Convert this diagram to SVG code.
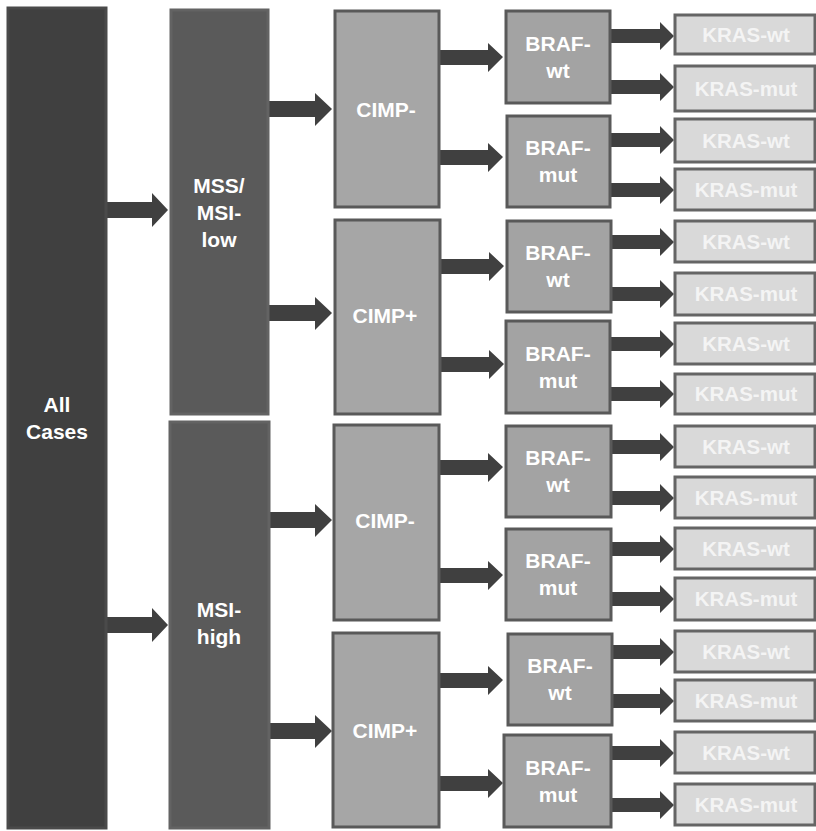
<svg xmlns="http://www.w3.org/2000/svg" width="816" height="831" viewBox="0 0 816 831">
<defs>
<style>
text{font-family:"Liberation Sans",Arial,sans-serif;font-weight:bold;fill:#ffffff;text-anchor:middle}
.l0{fill:#404040;stroke:#4a4a4a;stroke-width:3}
.l1{fill:#5a5a5a;stroke:#636363;stroke-width:3}
.l2{fill:#a6a6a6;stroke:#595959;stroke-width:3}
.l3{fill:#a3a3a3;stroke:#595959;stroke-width:3}
.l4{fill:#d9d9d9;stroke:#656565;stroke-width:3}
.t{font-size:21px}
.tk{font-size:20.5px;fill:#f4f4f4}
.a{fill:#404040}
</style>
</defs>
<rect width="816" height="831" fill="#ffffff"/>
<g id="connectors">
<polygon class="a" points="106,202 152,202 152,193 168,210 152,227 152,218 106,218"/>
<polygon class="a" points="106,617 152,617 152,608 168,625 152,642 152,633 106,633"/>
<polygon class="a" points="269,101 315,101 315,93 332,109 315,126 315,117 269,117"/>
<polygon class="a" points="269,305 315,305 315,297 332,313 315,330 315,321 269,321"/>
<polygon class="a" points="270,512 315,512 315,504 332,520 315,537 315,528 270,528"/>
<polygon class="a" points="270,723 315,723 315,715 332,731 315,748 315,739 270,739"/>
<polygon class="a" points="440,50 488,50 488,43 503,57 488,72 488,65 440,65"/>
<polygon class="a" points="440,150 488,150 488,143 503,157 488,172 488,165 440,165"/>
<polygon class="a" points="441,259 489,259 489,252 504,266 489,281 489,274 441,274"/>
<polygon class="a" points="441,357 489,357 489,350 504,364 489,379 489,372 441,372"/>
<polygon class="a" points="440,460 488,460 488,453 503,467 488,482 488,475 440,475"/>
<polygon class="a" points="440,568 488,568 488,561 503,575 488,590 488,583 440,583"/>
<polygon class="a" points="440,673 488,673 488,666 503,680 488,695 488,688 440,688"/>
<polygon class="a" points="440,776 488,776 488,769 503,783 488,798 488,791 440,791"/>
<polygon class="a" points="611,29 660,29 660,22 674,36 660,50 660,43 611,43"/>
<polygon class="a" points="611,80 660,80 660,73 674,87 660,101 660,94 611,94"/>
<polygon class="a" points="611,133 660,133 660,126 674,140 660,154 660,147 611,147"/>
<polygon class="a" points="611,183 660,183 660,176 674,190 660,204 660,197 611,197"/>
<polygon class="a" points="611,235 660,235 660,228 674,242 660,256 660,249 611,249"/>
<polygon class="a" points="611,287 660,287 660,280 674,294 660,308 660,301 611,301"/>
<polygon class="a" points="611,337 660,337 660,330 674,344 660,358 660,351 611,351"/>
<polygon class="a" points="611,387 660,387 660,380 674,394 660,408 660,401 611,401"/>
<polygon class="a" points="612,440 660,440 660,433 674,447 660,461 660,454 612,454"/>
<polygon class="a" points="612,491 660,491 660,484 674,498 660,512 660,505 612,505"/>
<polygon class="a" points="612,542 660,542 660,535 674,549 660,563 660,556 612,556"/>
<polygon class="a" points="612,592 660,592 660,585 674,599 660,613 660,606 612,606"/>
<polygon class="a" points="613,645 660,645 660,638 674,652 660,666 660,659 613,659"/>
<polygon class="a" points="613,694 660,694 660,687 674,701 660,715 660,708 613,708"/>
<polygon class="a" points="612,746 660,746 660,739 674,753 660,767 660,760 612,760"/>
<polygon class="a" points="612,798 660,798 660,791 674,805 660,819 660,812 612,812"/>
</g>
<g id="all-cases"><rect class="l0" x="8" y="8" width="98" height="820"/><text class="t" x="57" y="412">All</text><text class="t" x="57" y="439">Cases</text></g>
<g id="mss"><rect class="l1" x="171" y="10" width="97" height="404"/><text class="t" x="219" y="193">MSS/</text><text class="t" x="219" y="220">MSI-</text><text class="t" x="219" y="247">low</text></g>
<g id="msi-high"><rect class="l1" x="170" y="422" width="99" height="406"/><text class="t" x="219" y="617">MSI-</text><text class="t" x="219" y="644">high</text></g>
<g id="cimp1"><rect class="l2" x="335" y="11" width="104" height="196"/><text class="t" x="386" y="117">CIMP-</text></g>
<g id="cimp2"><rect class="l2" x="335" y="220" width="105" height="194"/><text class="t" x="385" y="323">CIMP+</text></g>
<g id="cimp3"><rect class="l2" x="334" y="425" width="105" height="195"/><text class="t" x="385" y="528">CIMP-</text></g>
<g id="cimp4"><rect class="l2" x="333" y="633" width="106" height="194"/><text class="t" x="385" y="738">CIMP+</text></g>
<g id="braf1"><rect class="l3" x="506" y="11" width="104" height="92"/><text class="t" x="558" y="51">BRAF-</text><text class="t" x="558" y="78">wt</text></g>
<g id="braf2"><rect class="l3" x="507" y="116" width="103" height="91"/><text class="t" x="558" y="155">BRAF-</text><text class="t" x="558" y="182">mut</text></g>
<g id="braf3"><rect class="l3" x="507" y="221" width="104" height="91"/><text class="t" x="558" y="260">BRAF-</text><text class="t" x="558" y="287">wt</text></g>
<g id="braf4"><rect class="l3" x="506" y="321" width="104" height="92"/><text class="t" x="558" y="361">BRAF-</text><text class="t" x="558" y="388">mut</text></g>
<g id="braf5"><rect class="l3" x="506" y="426" width="105" height="91"/><text class="t" x="558" y="465">BRAF-</text><text class="t" x="558" y="492">wt</text></g>
<g id="braf6"><rect class="l3" x="506" y="529" width="105" height="91"/><text class="t" x="558" y="568">BRAF-</text><text class="t" x="558" y="595">mut</text></g>
<g id="braf7"><rect class="l3" x="508" y="634" width="104" height="91"/><text class="t" x="560" y="673">BRAF-</text><text class="t" x="560" y="700">wt</text></g>
<g id="braf8"><rect class="l3" x="504" y="735" width="107" height="92"/><text class="t" x="558" y="775">BRAF-</text><text class="t" x="558" y="802">mut</text></g>
<g id="kras1"><rect class="l4" x="675" y="15" width="140" height="39"/><text class="tk" x="746" y="42">KRAS-wt</text></g>
<g id="kras2"><rect class="l4" x="675" y="66" width="140" height="45"/><text class="tk" x="746" y="96">KRAS-mut</text></g>
<g id="kras3"><rect class="l4" x="675" y="119" width="140" height="43"/><text class="tk" x="746" y="148">KRAS-wt</text></g>
<g id="kras4"><rect class="l4" x="675" y="169" width="140" height="41"/><text class="tk" x="746" y="197">KRAS-mut</text></g>
<g id="kras5"><rect class="l4" x="675" y="221" width="140" height="41"/><text class="tk" x="746" y="249">KRAS-wt</text></g>
<g id="kras6"><rect class="l4" x="675" y="273" width="140" height="42"/><text class="tk" x="746" y="301">KRAS-mut</text></g>
<g id="kras7"><rect class="l4" x="675" y="323" width="140" height="41"/><text class="tk" x="746" y="351">KRAS-wt</text></g>
<g id="kras8"><rect class="l4" x="675" y="374" width="140" height="40"/><text class="tk" x="746" y="401">KRAS-mut</text></g>
<g id="kras9"><rect class="l4" x="675" y="426" width="140" height="41"/><text class="tk" x="746" y="454">KRAS-wt</text></g>
<g id="kras10"><rect class="l4" x="675" y="477" width="140" height="41"/><text class="tk" x="746" y="505">KRAS-mut</text></g>
<g id="kras11"><rect class="l4" x="675" y="528" width="140" height="41"/><text class="tk" x="746" y="556">KRAS-wt</text></g>
<g id="kras12"><rect class="l4" x="675" y="578" width="140" height="42"/><text class="tk" x="746" y="606">KRAS-mut</text></g>
<g id="kras13"><rect class="l4" x="675" y="631" width="140" height="41"/><text class="tk" x="746" y="659">KRAS-wt</text></g>
<g id="kras14"><rect class="l4" x="675" y="680" width="140" height="41"/><text class="tk" x="746" y="708">KRAS-mut</text></g>
<g id="kras15"><rect class="l4" x="675" y="732" width="140" height="41"/><text class="tk" x="746" y="760">KRAS-wt</text></g>
<g id="kras16"><rect class="l4" x="675" y="784" width="140" height="41"/><text class="tk" x="746" y="812">KRAS-mut</text></g>
</svg>
